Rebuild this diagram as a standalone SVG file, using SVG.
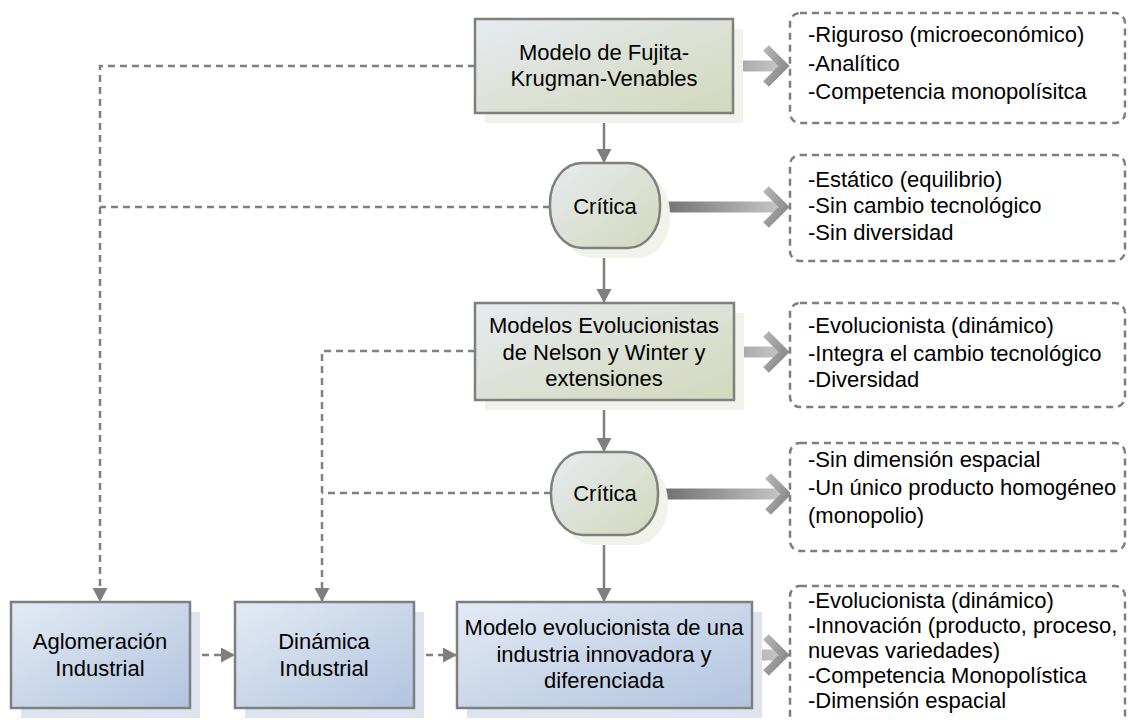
<svg xmlns="http://www.w3.org/2000/svg" width="1128" height="720" viewBox="0 0 1128 720">
  <defs>
    <linearGradient id="gGreen" x1="0" y1="0" x2="1" y2="1">
      <stop offset="0" stop-color="#e6ebf1"/>
      <stop offset="1" stop-color="#d2d8bb"/>
    </linearGradient>
    <linearGradient id="gBlue" x1="0" y1="0" x2="1" y2="1">
      <stop offset="0" stop-color="#e3eaf4"/>
      <stop offset="1" stop-color="#b1c4df"/>
    </linearGradient>
    <linearGradient id="gShaft" x1="0" y1="0" x2="1" y2="0">
      <stop offset="0" stop-color="#6f6f6f"/>
      <stop offset="1" stop-color="#c4c4c4"/>
    </linearGradient>
    <linearGradient id="gHead" x1="0" y1="0" x2="1" y2="1">
      <stop offset="0" stop-color="#b4b4b4"/>
      <stop offset="1" stop-color="#858585"/>
    </linearGradient>
    <marker id="tri" markerUnits="userSpaceOnUse" markerWidth="15" markerHeight="16" refX="14" refY="7.5" orient="auto">
      <path d="M0,0 L14,7.5 L0,15 z" fill="#7f7f7f"/>
    </marker>
    <!-- wide arrow: shaft plus chevron head, tip at origin -->
    <g id="bigArrow">
      <rect x="-130" y="-5.5" width="118" height="11" fill="url(#gShaft)"/>
      <polyline points="-24,-18 -6,0 -24,18" fill="none" stroke="url(#gHead)" stroke-width="8" stroke-linejoin="miter"/>
    </g>
  </defs>
  <style>
    text { font-family: "Liberation Sans", Arial, sans-serif; font-size: 22px; fill: #000; }
    .mid { text-anchor: middle; }
    .node { stroke: #7f7f7f; stroke-width: 2.5; }
    .green { fill: url(#gGreen); }
    .blue { fill: url(#gBlue); }
    .shadowG { fill: #f1f2ea; }
    .shadowB { fill: #dde4f0; }
    .note { fill: #fff; stroke: #7f7f7f; stroke-width: 2.5; stroke-dasharray: 7 5; }
    .dash { fill: none; stroke: #808080; stroke-width: 2.5; stroke-dasharray: 7 5; }
    .solid { fill: none; stroke: #808080; stroke-width: 2.5; }
  </style>

  <rect width="1128" height="720" fill="#fff"/>

  <!-- connectors -->
  <g id="connectors">
    <path class="dash" d="M475,66 H100 V602" marker-end="url(#tri)"/>
    <path class="dash" d="M550,207 H100"/>
    <path class="dash" d="M475,351 H322 V602" marker-end="url(#tri)"/>
    <path class="dash" d="M551,493 H322"/>
    <path class="dash" d="M190,655 H235" marker-end="url(#tri)"/>
    <path class="dash" d="M414,655 H457" marker-end="url(#tri)"/>
    <path class="solid" d="M604,113 V163" marker-end="url(#tri)"/>
    <path class="solid" d="M604,248 V303" marker-end="url(#tri)"/>
    <path class="solid" d="M604,400 V452" marker-end="url(#tri)"/>
    <path class="solid" d="M604,535 V602" marker-end="url(#tri)"/>
    <use href="#bigArrow" transform="translate(790,66)"/>
    <use href="#bigArrow" transform="translate(790,207)"/>
    <use href="#bigArrow" transform="translate(790,352)"/>
    <use href="#bigArrow" transform="translate(792,494)"/>
    <use href="#bigArrow" transform="translate(790,655)"/>
  </g>

  <!-- main flow -->
  <g id="fujita">
    <rect class="shadowG" x="485" y="29" width="258" height="94"/>
    <rect class="node green" x="475" y="19" width="258" height="94"/>
    <text class="mid" x="604" y="60">Modelo de Fujita-</text>
    <text class="mid" x="604" y="86">Krugman-Venables</text>
  </g>

  <g id="critica1">
    <rect class="shadowG" x="560" y="173" width="110" height="85" rx="32" ry="40"/>
    <rect class="node green" x="550" y="163" width="110" height="85" rx="32" ry="40"/>
    <text class="mid" x="605" y="214">Crítica</text>
  </g>

  <g id="evolucionistas">
    <rect class="shadowG" x="485" y="313" width="259" height="97"/>
    <rect class="node green" x="475" y="303" width="259" height="97"/>
    <text class="mid" x="604" y="333">Modelos Evolucionistas</text>
    <text class="mid" x="604" y="360">de Nelson y Winter y</text>
    <text class="mid" x="604" y="386">extensiones</text>
  </g>

  <g id="critica2">
    <rect class="shadowG" x="561" y="462" width="107" height="83" rx="32" ry="40"/>
    <rect class="node green" x="551" y="452" width="107" height="83" rx="32" ry="40"/>
    <text class="mid" x="605" y="501">Crítica</text>
  </g>

  <g id="aglomeracion">
    <rect class="shadowB" x="21" y="612" width="179" height="106"/>
    <rect class="node blue" x="11" y="602" width="179" height="106"/>
    <text class="mid" x="100" y="649">Aglomeración</text>
    <text class="mid" x="100" y="676">Industrial</text>
  </g>

  <g id="dinamica">
    <rect class="shadowB" x="245" y="612" width="179" height="106"/>
    <rect class="node blue" x="235" y="602" width="179" height="106"/>
    <text class="mid" x="324" y="649">Dinámica</text>
    <text class="mid" x="324" y="676">Industrial</text>
  </g>

  <g id="modeloInnovador">
    <rect class="shadowB" x="467" y="612" width="295" height="106"/>
    <rect class="node blue" x="457" y="602" width="295" height="106"/>
    <text class="mid" x="604" y="635">Modelo evolucionista de una</text>
    <text class="mid" x="604" y="662">industria innovadora y</text>
    <text class="mid" x="604" y="688">diferenciada</text>
  </g>

  <!-- characteristic notes -->
  <g id="notaFujita">
    <rect class="note" x="790" y="13" width="335" height="110" rx="10"/>
    <text x="808" y="42">-Riguroso (microeconómico)</text>
    <text x="808" y="71">-Analítico</text>
    <text x="808" y="99">-Competencia monopolísitca</text>
  </g>

  <g id="notaCritica1">
    <rect class="note" x="790" y="155" width="335" height="106" rx="10"/>
    <text x="808" y="187">-Estático (equilibrio)</text>
    <text x="808" y="213">-Sin cambio tecnológico</text>
    <text x="808" y="240">-Sin diversidad</text>
  </g>

  <g id="notaEvolucionistas">
    <rect class="note" x="790" y="303" width="335" height="104" rx="10"/>
    <text x="808" y="333">-Evolucionista (dinámico)</text>
    <text x="808" y="361">-Integra el cambio tecnológico</text>
    <text x="808" y="387">-Diversidad</text>
  </g>

  <g id="notaCritica2">
    <rect class="note" x="790" y="443" width="335" height="108" rx="10"/>
    <text x="808" y="467">-Sin dimensión espacial</text>
    <text x="808" y="495">-Un único producto homogéneo</text>
    <text x="808" y="523">(monopolio)</text>
  </g>

  <g id="notaModelo">
    <rect class="note" x="790" y="586" width="335" height="150" rx="10"/>
    <text x="808" y="608">-Evolucionista (dinámico)</text>
    <text x="808" y="633">-Innovación (producto, proceso,</text>
    <text x="808" y="658">nuevas variedades)</text>
    <text x="808" y="683">-Competencia Monopolística</text>
    <text x="808" y="708">-Dimensión espacial</text>
  </g>
</svg>
